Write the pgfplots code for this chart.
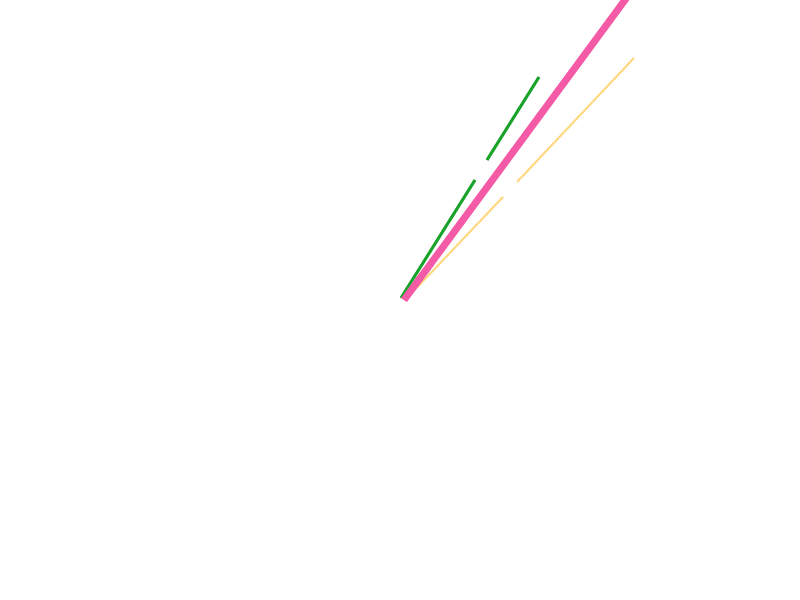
\documentclass[border=0pt]{standalone}
\usepackage{pgfplots}
\pgfplotsset{compat=1.18}
\definecolor{lgreen}{RGB}{26,163,42}
\definecolor{lpink}{RGB}{244,90,166}
\definecolor{lyellow}{RGB}{255,216,128}
\begin{document}
\begin{tikzpicture}
    \begin{axis}[
        scale only axis,
        width  = 400bp,
        height = 300bp,
        xmin=0, xmax=800,
        ymin=0, ymax=600,
        axis lines=none,
        ticks=none,
        clip=true,
        axis background/.style={fill=white},
        ]
        % green, broken
        \addplot[lgreen, line width=1.5bp, mark=none]
            coordinates {(401,302) (475,420)};
        \addplot[lgreen, line width=1.5bp, mark=none]
            coordinates {(487,440) (539,523)};
        % yellow, broken
        \addplot[lyellow, line width=1bp, mark=none]
            coordinates {(407,302) (503,403)};
        \addplot[lyellow, line width=1bp, mark=none]
            coordinates {(517,418) (634,542)};
        % pink, thick
        \addplot[lpink, line width=3.5bp, mark=none]
            coordinates {(404,300) (636,615)};
    \end{axis}
\end{tikzpicture}
\end{document}
